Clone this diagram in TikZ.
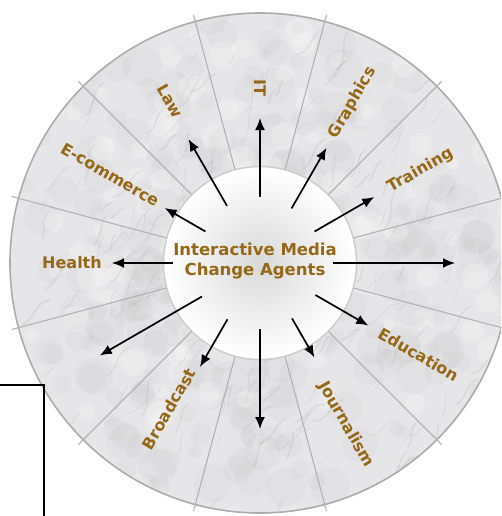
\documentclass[tikz,border=0pt]{standalone}
\usepackage{fontspec}
\setmainfont{DejaVu Sans}
\usetikzlibrary{arrows.meta}
\definecolor{agentbrown}{RGB}{150,104,22}
\definecolor{marble}{RGB}{230,230,232}
\tikzset{
	label/.style={font=\bfseries\fontsize{16}{19}\selectfont,text=agentbrown,inner sep=1pt},
	spoke/.style={line width=1.7pt,-{Latex[length=12pt,width=10pt]}},
	divider/.style={gray!60,line width=1.1pt},
}
\begin{document}
\begin{tikzpicture}[x=1pt,y=1pt]
	\useasboundingbox (0,0) rectangle (501,-516);
	\clip (0,0) rectangle (501,-516);
	\coordinate (hub) at (260,-263);
	% marble ring
	\begin{scope}[even odd rule]
	\clip (hub) circle (250) (hub) circle (96);
	\fill[marble] (hub) circle (250);
	\pgfmathsetseed{11}
	\foreach \i in {1,...,220}{
		\pgfmathsetmacro{\ang}{rnd*360}
		\pgfmathsetmacro{\rad}{96+rnd*160}
		\pgfmathsetmacro{\sz}{6+rnd*14}
		\fill[gray,opacity=.045] (hub) ++(\ang:\rad) circle (\sz);
	}
	\foreach \i in {1,...,90}{
		\pgfmathsetmacro{\ang}{rnd*360}
		\pgfmathsetmacro{\rad}{96+rnd*160}
		\pgfmathsetmacro{\sz}{5+rnd*10}
		\fill[white,opacity=.2] (hub) ++(\ang:\rad) circle (\sz);
	}
	\foreach \i in {1,...,160}{
		\pgfmathsetmacro{\ang}{rnd*360}
		\pgfmathsetmacro{\rad}{96+rnd*160}
		\pgfmathsetmacro{\dir}{15+rnd*50+180*round(rnd)}
		\pgfmathsetmacro{\len}{10+rnd*30}
		\pgfmathsetmacro{\lw}{.4+rnd*1.8}
		\draw[gray!75,opacity=.16,line width=\lw pt,line cap=round] (hub) ++(\ang:\rad) to[out=\dir,in=\dir+160] ++(\dir+15:\len);
	}
	\end{scope}
	\draw[gray!65,line width=1.6pt] (hub) circle (250);
	\draw[gray!40,line width=1.4pt] (hub) circle (96.5);
	\foreach \a in {15,45,...,345}
		\draw[divider] (hub) ++(\a:97) -- ++(\a:160);
	% centre
	\shade[inner color=gray!30,outer color=white] (hub) circle (95);
	\node[label,align=center,font=\bfseries\fontsize{16.5}{20}\selectfont] (agents) at (255,-261) {Interactive Media\\Change Agents};
	% spokes
	\foreach \a/\rs/\re [count=\n] in {90/66/145,60/63/133,30/63/132,0/73/195,-30/64/125,-60/64/109,
		-90/66/166,-120/65/120,-150/67/185,180/87/148,150/63/110,120/66/143}{
		\path (hub) ++(\a:\rs) coordinate (s\n);
		\path (hub) ++(\a:\re) coordinate (t\n);
		\draw[spoke] (s\n) -- (t\n);
	}
	% labels
	\path (hub) ++(90:175) node[label,rotate=-90] (it) {IT};
	\path (hub) ++(60:185) node[label,rotate=60] (graphics) {Graphics};
	\path (hub) ++(30:185) node[label,rotate=30] (training) {Training};
	\path (hub) ++(-30:183) node[label,rotate=-30] (education) {Education};
	\path (hub) ++(-62:183) node[label,rotate=-60] (journalism) {Journalism};
	\path (hub) ++(-122:172) node[label,rotate=60] (broadcast) {Broadcast};
	\path (hub) ++(180:188) node[label] (health) {Health};
	\path (hub) ++(149.5:174) node[label,rotate=-30] (ecommerce) {E-commerce};
	\path (hub) ++(119:185) node[label,rotate=-60] (law) {Law};
	% frame corner
	\coordinate (fa) at (-5,-385);
	\coordinate (fb) at (44,-385);
	\coordinate (fc) at (44,-520);
	\draw[line width=1.3pt] (fa) -- (fb) -- (fc);
\end{tikzpicture}
\end{document}
